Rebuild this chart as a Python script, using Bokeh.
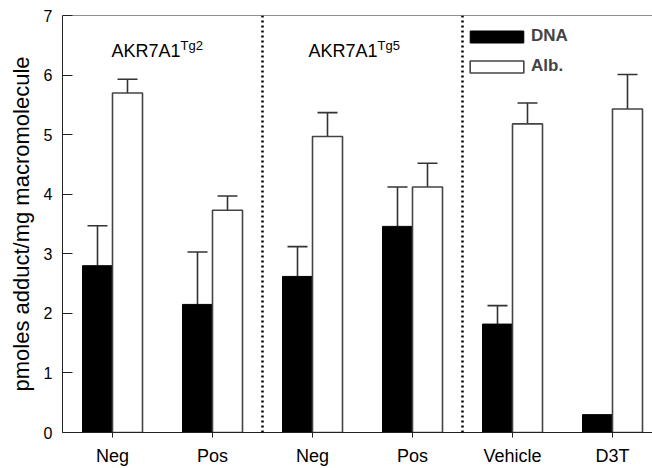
from bokeh.plotting import figure
from bokeh.models import (Range1d, FixedTicker, Span, Whisker, TeeHead, ColumnDataSource,
                          Legend, LegendItem)
from bokeh.core.properties import value
from bokeh.embed import file_html
from bokeh.resources import INLINE

# ---- data ----
categories = ["Neg", "Pos", "Neg", "Pos", "Vehicle", "D3T"]
positions = [1, 2, 3, 4, 5, 6]
dna = [2.80, 2.15, 2.62, 3.46, 1.82, 0.30]
dna_err = [0.67, 0.88, 0.50, 0.66, 0.31, 0.0]
alb = [5.70, 3.73, 4.97, 4.12, 5.18, 5.43]
alb_err = [0.23, 0.24, 0.40, 0.40, 0.35, 0.58]
group_titles = ["AKR7A1", "AKR7A1"]
group_sups = ["Tg2", "Tg5"]
y_ticks = [0, 1, 2, 3, 4, 5, 6, 7]

FONT = "Liberation Sans"
BW = 0.3

p = figure(width=652, height=468, output_backend="svg", toolbar_location=None,
           x_range=Range1d(0.5, 6.4), y_range=Range1d(0, 7),
           min_border_left=62, min_border_right=0, min_border_top=15, min_border_bottom=0)
p.outline_line_color = None
p.xgrid.visible = False
p.ygrid.visible = False
p.background_fill_color = "white"

dna_x = [x - BW / 2 for x in positions]
alb_x = [x + BW / 2 for x in positions]

r_dna = p.vbar(x=dna_x, top=dna, width=BW, bottom=0, fill_color="black", line_color="black",
               line_width=1)
r_alb = p.vbar(x=alb_x, top=alb, width=BW, bottom=0, fill_color="white", line_color="#444444",
               line_width=1.6)

# error bars (upper only)
def whisk(xs, tops, errs):
    xs2 = [x for x, e in zip(xs, errs) if e > 0]
    lo = [t for t, e in zip(tops, errs) if e > 0]
    up = [t + e for t, e in zip(tops, errs) if e > 0]
    src = ColumnDataSource(dict(x=xs2, lower=lo, upper=up))
    w = Whisker(source=src, base="x", lower="lower", upper="upper", dimension="height",
                line_color="#333333", line_width=1.6,
                upper_head=TeeHead(size=20, line_color="#333333", line_width=1.6),
                lower_head=None)
    p.add_layout(w)

whisk(dna_x, dna, dna_err)
whisk(alb_x, alb, alb_err)

# dotted separators and top border
for loc in [2.5, 4.5]:
    p.add_layout(Span(location=loc, dimension="height", line_color="black",
                      line_width=2.5, line_dash="2 3"))
p.add_layout(Span(location=7, dimension="width", line_color="#222222", line_width=1.2))

# group titles
p.text(x=[0.99, 2.96], y=[6.41, 6.41], text=group_titles, text_font=value(FONT),
       text_font_size="18px", text_color="black", text_baseline="alphabetic", text_align="left")
p.text(x=[1.68, 3.65], y=[6.50, 6.50], text=group_sups, text_font=value(FONT),
       text_font_size="13px", text_color="black", text_baseline="alphabetic", text_align="left")

# axes
xa = p.xaxis[0]
xa.ticker = FixedTicker(ticks=positions)
xa.major_label_overrides = {pos: lab for pos, lab in zip(positions, categories)}
xa.major_tick_in = 0
xa.major_tick_out = 5
xa.minor_tick_line_color = None
xa.major_label_standoff = 8
xa.major_label_text_font = FONT
xa.major_label_text_font_size = "18px"
xa.major_label_text_color = "black"
xa.axis_line_color = "#222222"
xa.major_tick_line_color = "#222222"

ya = p.yaxis[0]
ya.ticker = FixedTicker(ticks=y_ticks)
ya.major_tick_in = 10
ya.major_tick_out = 0
ya.minor_tick_line_color = None
ya.major_label_standoff = 10
ya.major_label_text_font = FONT
ya.major_label_text_font_size = "16px"
ya.major_label_text_color = "black"
ya.axis_label = "pmoles adduct/mg macromolecule"
ya.axis_label_text_font = FONT
ya.axis_label_text_font_size = "22px"
ya.axis_label_text_font_style = "normal"
ya.axis_label_text_color = "black"
ya.axis_label_standoff = 7
ya.axis_line_color = "#222222"
ya.major_tick_line_color = "#222222"

legend = Legend(items=[LegendItem(label="DNA", renderers=[r_dna]),
                       LegendItem(label="Alb.", renderers=[r_alb])],
                location=(401, 356), orientation="vertical",
                glyph_width=67, glyph_height=15, label_standoff=1,
                label_text_font=FONT, label_text_font_size="17px",
                label_text_font_style="bold", spacing=10, padding=0, margin=0,
                border_line_color=None, background_fill_alpha=0)
p.add_layout(legend)

open("out.html", "w").write(file_html(p, INLINE))
